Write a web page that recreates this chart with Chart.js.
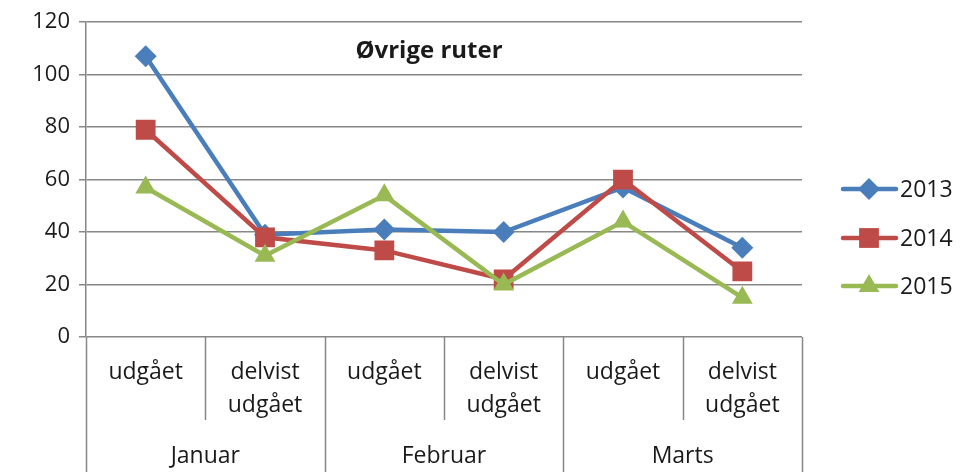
<!DOCTYPE html>
<html>
<head>
<meta charset="utf-8">
<script src="https://cdn.jsdelivr.net/npm/chart.js@4/dist/chart.umd.min.js"></script>
<style>
  html, body { margin: 0; padding: 0; background: #fff; }
  #wrap { width: 977px; height: 472px; position: relative; }
</style>
</head>
<body>
<div id="wrap"><canvas id="chart"></canvas></div>
<script>
// data
const categories = ['udgået', 'delvist udgået', 'udgået', 'delvist udgået', 'udgået', 'delvist udgået']
const months = ['Januar', 'Februar', 'Marts']
const series2013 = [107, 39, 41, 40, 57, 34]
const series2014 = [79, 38, 33, 22, 60, 25]
const series2015 = [57, 31, 54, 20, 44, 15]
const seriesNames = ['2013', '2014', '2015']
const yTicks = [0, 20, 40, 60, 80, 100, 120]
const chartTitle = 'Øvrige ruter'

const FONT = '"Open Sans", sans-serif'
const TEXT = '#1a1a1a'
const GRID = '#878787'

const COLORS = {
  blue: '#4a7ebb',
  red: '#be4b48',
  green: '#98b954'
}

// custom drawing: title, two-level category axis, legend
const decorations = {
  id: 'decorations',
  afterDraw(chart) {
    const { ctx, chartArea: area, scales: { x } } = chart
    const step = (area.right - area.left) / categories.length
    ctx.save()

    // title
    ctx.fillStyle = TEXT
    ctx.font = 'bold 24px ' + FONT
    ctx.textAlign = 'center'
    ctx.textBaseline = 'middle'
    ctx.fillText(chartTitle, 429, 51)

    // separators
    ctx.strokeStyle = GRID
    ctx.lineWidth = 1.5
    for (let k = 0; k <= categories.length; k++) {
      const px = Math.round(area.left + k * step) + 0.5
      ctx.beginPath()
      ctx.moveTo(px, area.bottom)
      ctx.lineTo(px, k % 2 === 0 ? 472 : 420)
      ctx.stroke()
    }

    // inner labels
    ctx.font = '23px ' + FONT
    ctx.fillStyle = TEXT
    categories.forEach((c, i) => {
      const cx = x.getPixelForValue(i)
      const lines = c.split(' ')
      lines.forEach((l, j) => ctx.fillText(l, cx, 372 + j * 33))
    })
    // month labels
    months.forEach((m, i) => {
      const cx = area.left + (2 * i + 1) * step
      ctx.fillText(m, cx, 456)
    })

    // legend
    const ys = [189, 238, 286]
    chart.data.datasets.forEach((ds, i) => {
      const y = ys[i]
      ctx.strokeStyle = ds.borderColor
      ctx.lineWidth = 4.5
      ctx.lineCap = 'round'
      ctx.beginPath()
      ctx.moveTo(843, y)
      ctx.lineTo(896, y)
      ctx.stroke()
      ctx.fillStyle = ds.borderColor
      Chart.helpers.drawPoint(ctx, {
        pointStyle: ds.pointStyle,
        radius: ds.pointRadius,
        borderWidth: 0
      }, 869, y)
      ctx.fillStyle = TEXT
      ctx.textAlign = 'left'
      ctx.font = '23px ' + FONT
      ctx.fillText(ds.label, 900, y + 1)
    })
    ctx.restore()
  }
}

function makeSet(label, data, color, style, radius, order) {
  return {
    label,
    data,
    order,
    borderColor: color,
    backgroundColor: color,
    borderWidth: 4.5,
    pointStyle: style,
    pointRadius: radius,
    pointHoverRadius: radius,
    pointBorderWidth: 0,
    pointBackgroundColor: color,
    tension: 0
  }
}

new Chart(document.getElementById('chart'), {
  type: 'line',
  data: {
    labels: categories,
    datasets: [
      makeSet(seriesNames[0], series2013, COLORS.blue, 'rectRot', 11, 3),
      makeSet(seriesNames[1], series2014, COLORS.red, 'rect', 14, 2),
      makeSet(seriesNames[2], series2015, COLORS.green, 'triangle', 12, 1)
    ]
  },
  options: {
    responsive: true,
    maintainAspectRatio: false,
    animation: false,
    layout: { padding: { top: 19, right: 175, bottom: 135, left: 0 } },
    plugins: {
      legend: { display: false },
      tooltip: { enabled: false },
      title: { display: false }
    },
    scales: {
      x: {
        display: false,
        offset: true
      },
      y: {
        min: 0,
        max: 120,
        afterBuildTicks(scale) {
          scale.ticks = yTicks.map(v => ({ value: v }))
        },
        afterFit(scale) { scale.width = 86 },
        grid: { color: GRID, lineWidth: 1.5, tickLength: 7 },
        border: { color: GRID, width: 1.5 },
        ticks: {
          color: TEXT,
          font: { family: FONT, size: 22 },
          padding: 9
        }
      }
    }
  },
  plugins: [decorations]
})
</script>
</body>
</html>
